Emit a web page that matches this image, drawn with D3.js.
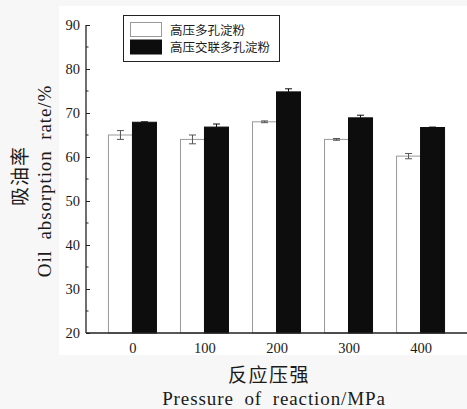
<!DOCTYPE html>
<head>
<meta charset="utf-8">
<style>
body { margin: 0; background: #f7f7f7; }
text { fill: #1a1a1a; }
</style>
</head>
<body>
<script src="https://cdn.jsdelivr.net/npm/d3@7/dist/d3.min.js"></script>
<script>

var categories = ["0", "100", "200", "300", "400"];
var series = ["高压多孔淀粉", "高压交联多孔淀粉"];
var porous = [65.0, 64.0, 68.0, 64.0, 60.2];
var porousErr = [1.0, 1.0, 0.2, 0.2, 0.6];
var crosslinked = [67.9, 66.8, 74.8, 68.9, 66.7];
var crosslinkedErr = [0.1, 0.7, 0.7, 0.6, 0.1];
var yTicks = [20, 30, 40, 50, 60, 70, 80, 90];

var SERIF = "'Liberation Serif', 'Times New Roman', serif";
var CJK = "'Noto Sans CJK SC', sans-serif";

var width = 467, height = 409;

var svg = d3.select("body").append("svg")
    .attr("width", width)
    .attr("height", height);

// white plot card, the page around it is slightly grey
svg.append("rect")
    .attr("x", 59).attr("y", 6)
    .attr("width", width - 59).attr("height", 349)
    .attr("fill", "#fff");

var x = d3.scalePoint()
    .domain(categories)
    .range([86, 467])
    .padding(0.645);

var y = d3.scaleLinear()
    .domain([20, 90])
    .range([333, 25]);

var barW = 24;

var data = categories.map(function(c, i) {
  return [
    {cat: c, k: 0, v: porous[i], e: porousErr[i]},
    {cat: c, k: 1, v: crosslinked[i], e: crosslinkedErr[i]}
  ];
}).flat();

// bars
svg.append("g")
    .selectAll("rect")
    .data(data)
    .enter().append("rect")
    .attr("x", function(d) { return x(d.cat) - barW + d.k * barW; })
    .attr("y", function(d) { return y(d.v); })
    .attr("width", barW)
    .attr("height", function(d) { return y(20) - y(d.v); })
    .attr("fill", function(d) { return d.k ? "#0d0d0d" : "#fff"; })
    .attr("stroke", function(d) { return d.k ? "#0d0d0d" : "#999"; })
    .attr("stroke-width", 1);

// error bars
var err = svg.append("g")
    .selectAll("g")
    .data(data)
    .enter().append("g")
    .attr("stroke", function(d) { return d.k ? "#0d0d0d" : "#555"; })
    .attr("stroke-width", 1);

err.append("line")
    .attr("x1", function(d) { return x(d.cat) - barW / 2 + d.k * barW; })
    .attr("x2", function(d) { return x(d.cat) - barW / 2 + d.k * barW; })
    .attr("y1", function(d) { return y(d.v + d.e); })
    .attr("y2", function(d) { return d.k ? y(d.v) : y(d.v - d.e); });

err.append("line")
    .attr("x1", function(d) { return x(d.cat) - barW / 2 + d.k * barW - 3.5; })
    .attr("x2", function(d) { return x(d.cat) - barW / 2 + d.k * barW + 3.5; })
    .attr("y1", function(d) { return y(d.v + d.e); })
    .attr("y2", function(d) { return y(d.v + d.e); });

err.filter(function(d) { return !d.k; }).append("line")
    .attr("x1", function(d) { return x(d.cat) - barW / 2 - 3.5; })
    .attr("x2", function(d) { return x(d.cat) - barW / 2 + 3.5; })
    .attr("y1", function(d) { return y(d.v - d.e); })
    .attr("y2", function(d) { return y(d.v - d.e); });

// y axis, ticks point inward
var yAxis = svg.append("g")
    .attr("transform", "translate(86,0)")
    .call(d3.axisLeft(y).tickValues(yTicks).tickSize(-4).tickPadding(6));
yAxis.attr("font-family", null).attr("font-size", null);
yAxis.select(".domain").attr("stroke", "#222").attr("stroke-width", 1.3)
    .attr("d", "M0," + y(90) + "V" + y(20));
yAxis.selectAll(".tick line").attr("stroke", "#222");
yAxis.selectAll(".tick text")
    .style("font-family", SERIF)
    .style("font-size", "14.5px")
    .style("fill", "#1a1a1a");

// minor ticks
svg.append("g")
    .selectAll("line")
    .data(d3.range(25, 90, 10))
    .enter().append("line")
    .attr("x1", 86).attr("x2", 88.5)
    .attr("y1", function(d) { return y(d); })
    .attr("y2", function(d) { return y(d); })
    .attr("stroke", "#222");

// x axis, no tick marks
var xAxis = svg.append("g")
    .attr("transform", "translate(0,333)")
    .call(d3.axisBottom(x).tickSize(0).tickPadding(10));
xAxis.attr("font-family", null).attr("font-size", null);
xAxis.select(".domain").attr("stroke", "#222").attr("stroke-width", 1.3)
    .attr("d", "M86,0H467");
xAxis.selectAll(".tick text")
    .style("font-family", SERIF)
    .style("font-size", "14.5px")
    .style("fill", "#1a1a1a");

// axis titles
svg.append("text")
    .attr("transform", "translate(27,176) rotate(-90)")
    .attr("text-anchor", "middle")
    .style("font-family", CJK)
    .style("font-size", "19px")
    .style("letter-spacing", "1px")
    .text("吸油率");

svg.append("text")
    .attr("transform", "translate(51,181) rotate(-90)")
    .attr("text-anchor", "middle")
    .style("font-family", SERIF)
    .style("font-size", "19px")
    .style("letter-spacing", "0.9px")
    .style("word-spacing", "5px")
    .text("Oil absorption rate/%");

svg.append("text")
    .attr("x", 269).attr("y", 382)
    .attr("text-anchor", "middle")
    .style("font-family", CJK)
    .style("font-size", "19px")
    .style("letter-spacing", "1.5px")
    .text("反应压强");

svg.append("text")
    .attr("x", 274).attr("y", 405)
    .attr("text-anchor", "middle")
    .style("font-family", SERIF)
    .style("font-size", "19px")
    .style("letter-spacing", "0.9px")
    .style("word-spacing", "5px")
    .text("Pressure of reaction/MPa");

// legend
var legend = svg.append("g");
legend.append("rect")
    .attr("x", 123.5).attr("y", 15.5)
    .attr("width", 156).attr("height", 46)
    .attr("fill", "#fff").attr("stroke", "#222").attr("stroke-width", 1);

var item = legend.selectAll("g.item")
    .data(series)
    .enter().append("g")
    .attr("class", "item")
    .attr("transform", function(d, i) { return "translate(0," + (i * 17.5) + ")"; });

item.append("rect")
    .attr("x", 130.5).attr("y", 22.5)
    .attr("width", 31).attr("height", 14)
    .attr("fill", function(d, i) { return i ? "#0d0d0d" : "#fff"; })
    .attr("stroke", function(d, i) { return i ? "#0d0d0d" : "#999"; });

item.append("text")
    .attr("x", 170).attr("y", 34.5)
    .style("font-family", CJK)
    .style("font-size", "12.5px")
    .text(function(d) { return d; });

</script>
</body>
</html>
